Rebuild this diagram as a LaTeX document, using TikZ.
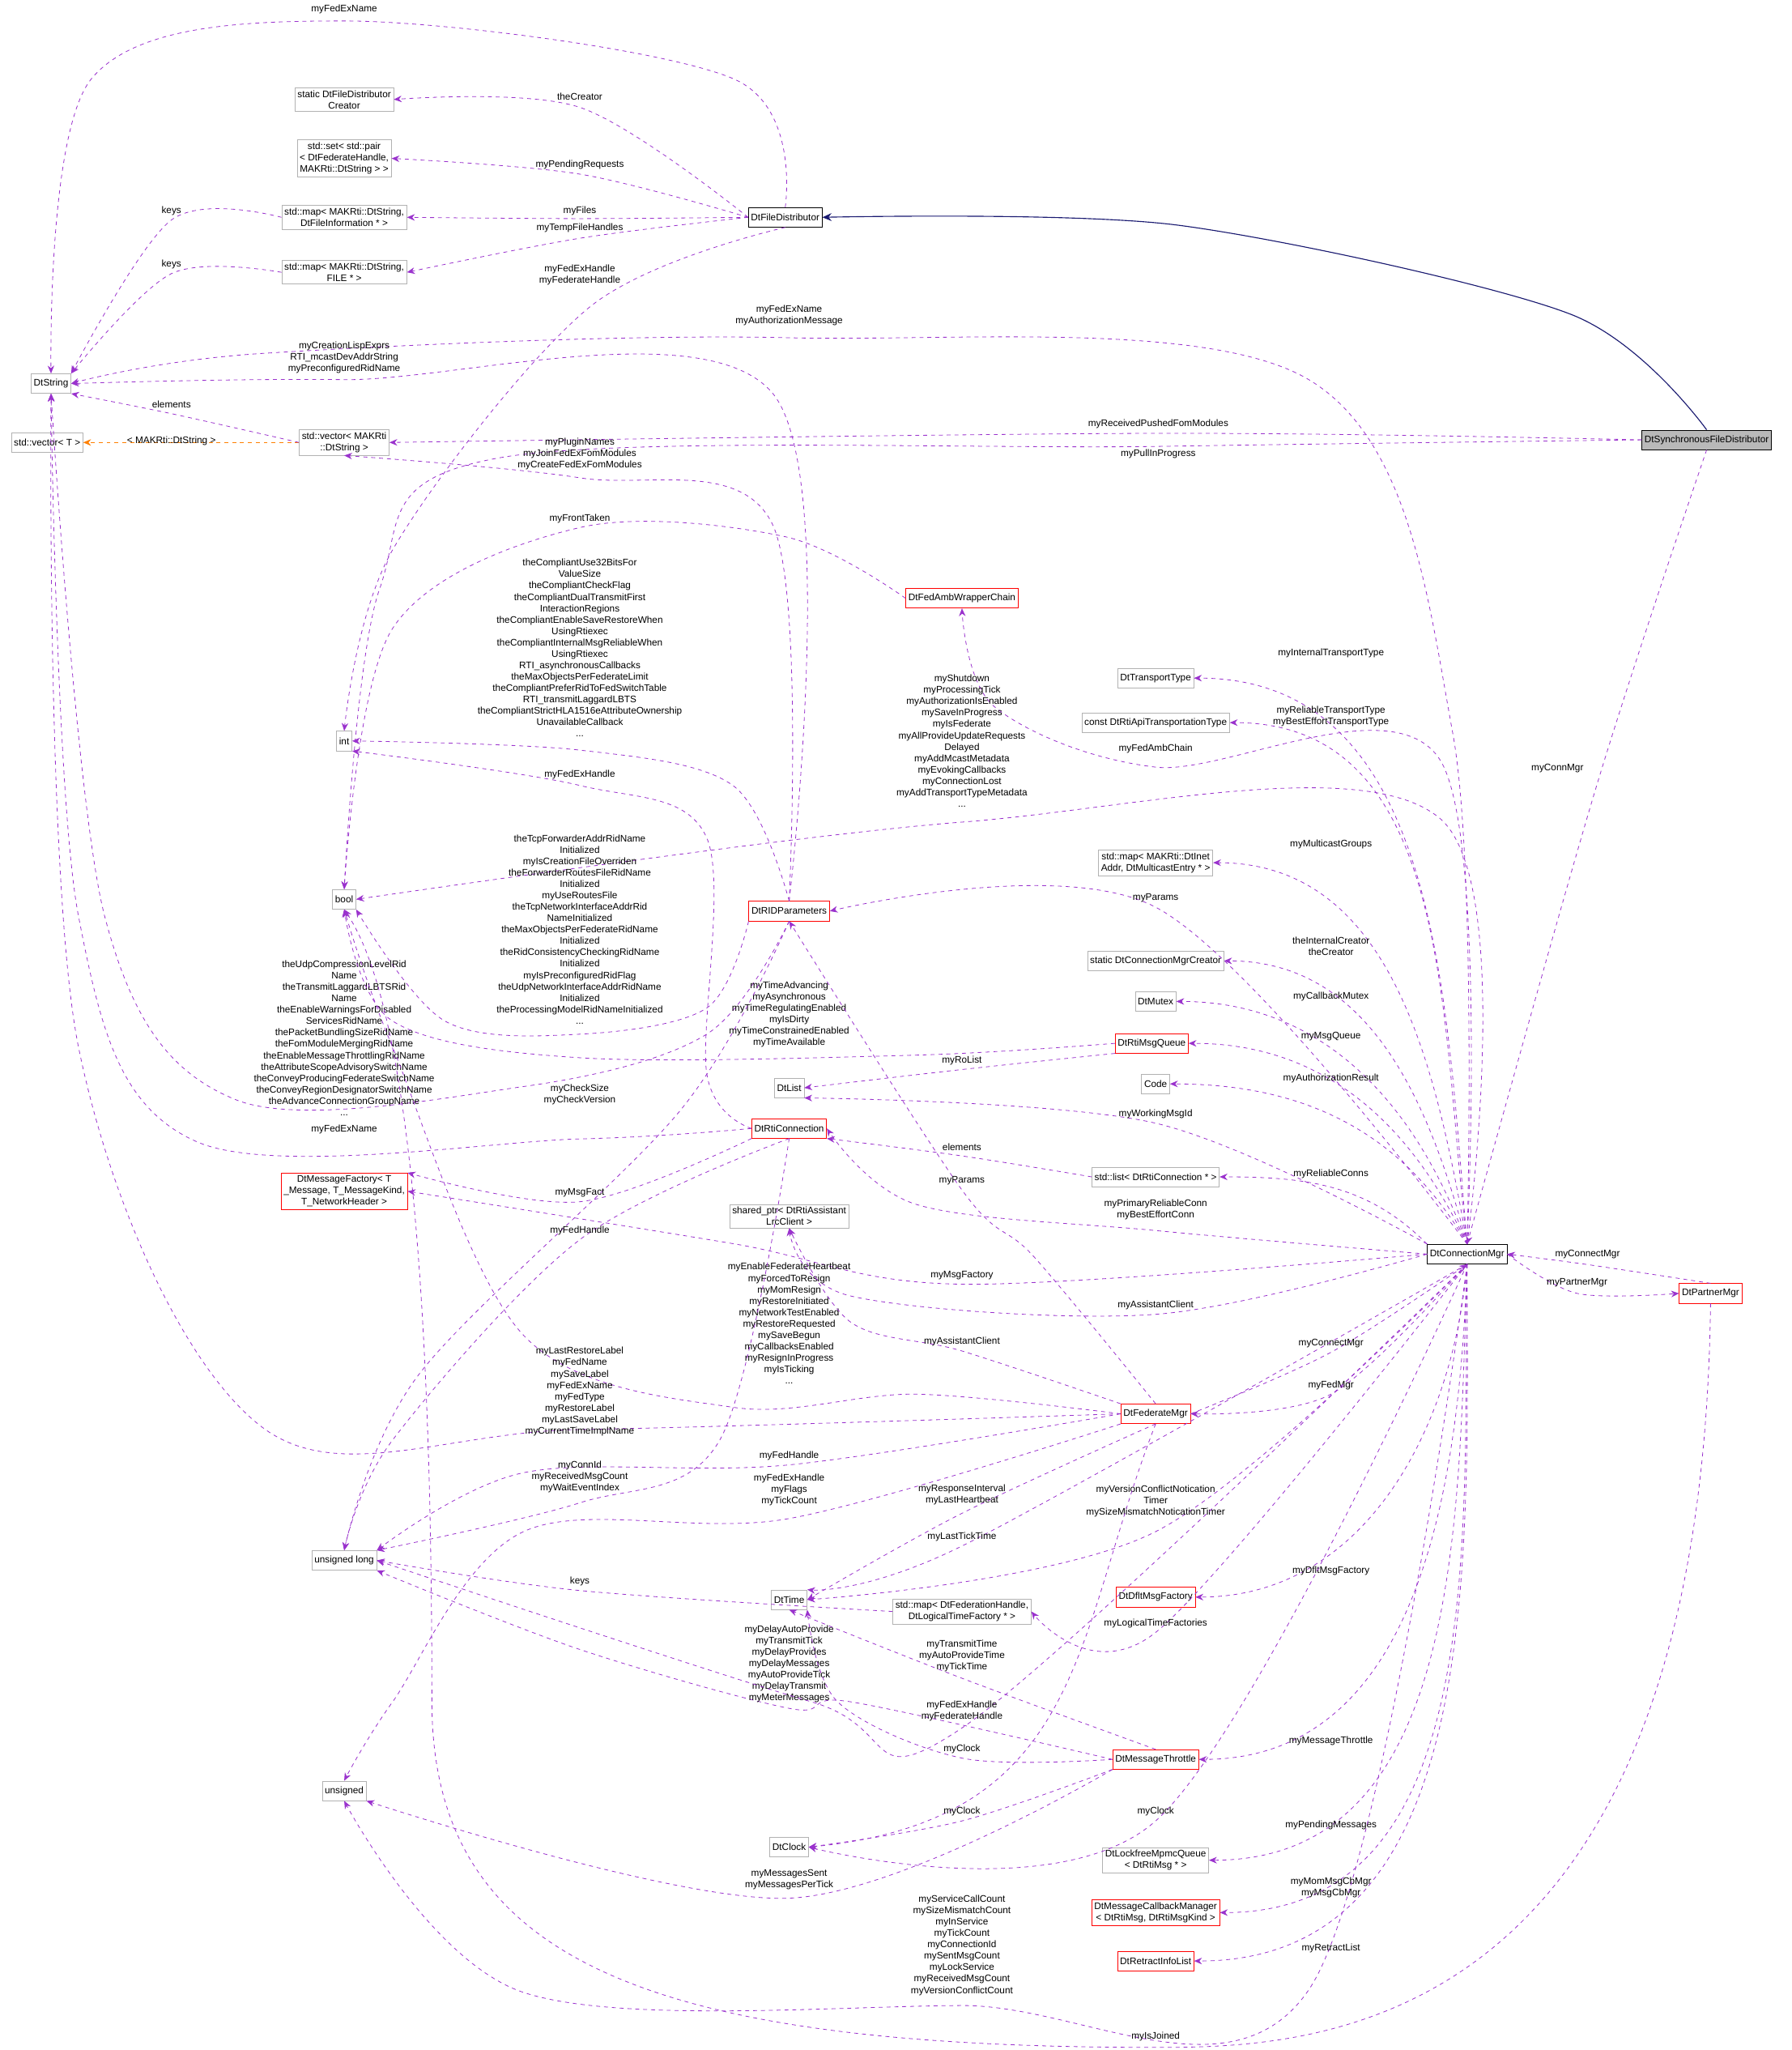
\documentclass[tikz,border=0pt]{standalone}
\usepackage{fontspec}
\setmainfont{Liberation Sans}
\usetikzlibrary{arrows.meta}
\begin{document}
\begin{tikzpicture}[x=1pt,y=-1pt,
  every node/.style={font=\fontsize{7.3}{8.7}\selectfont,align=center},
  box/.style={draw=gray!60,fill=white,inner sep=2pt,minimum height=15pt},
  rbox/.style={box,draw=red},
  kbox/.style={box,draw=black},
  lbl/.style={inner sep=0pt},
  dep/.style={draw={rgb,255:red,154;green,50;blue,205},dashed,line width=0.5pt,-{Stealth[length=6pt,width=5pt]}},
  tpl/.style={draw=orange,dashed,line width=0.5pt,-{Stealth[length=6pt,width=5pt]}},
  inh/.style={draw={rgb,255:red,25;green,25;blue,112},line width=0.7pt,-{Stealth[length=7pt,width=6pt]}}]
\useasboundingbox (0,0) rectangle (1369,1566);
% nodes
\node[kbox,fill=gray!55] (sync) at (1304,336) {DtSynchronousFileDistributor};
\node[kbox] (fd) at (600,166) {DtFileDistributor};
\node[kbox] (conn) at (1121,958) {DtConnectionMgr};
\node[rbox] (partner) at (1307,988) {DtPartnerMgr};
\node[box] (str) at (39,293) {DtString};
\node[box] (creator) at (263,76) {static DtFileDistributor\\Creator};
\node[box] (set) at (263,121) {std::set\textless{} std::pair\\\textless{} DtFederateHandle,\\MAKRti::DtString \textgreater{} \textgreater};
\node[box] (mapfi) at (263,166) {std::map\textless{} MAKRti::DtString,\\DtFileInformation * \textgreater};
\node[box] (mapfile) at (263,208) {std::map\textless{} MAKRti::DtString,\\FILE * \textgreater};
\node[box] (vec) at (263,338) {std::vector\textless{} MAKRti\\::DtString \textgreater};
\node[box] (vt) at (36,338) {std::vector\textless{} T \textgreater};
\node[box] (int) at (263,566) {int};
\node[box] (bool) at (263,687) {bool};
\node[rbox] (fedamb) at (735,457) {DtFedAmbWrapperChain};
\node[box] (trans) at (883,518) {DtTransportType};
\node[box] (api) at (883,552) {const DtRtiApiTransportationType};
\node[box] (inet) at (883,659) {std::map\textless{} MAKRti::DtInet\\Addr, DtMulticastEntry * \textgreater};
\node[rbox] (rid) at (603,696) {DtRIDParameters};
\node[box] (mgrcreator) at (883,734) {static DtConnectionMgrCreator};
\node[box] (mutex) at (883,765) {DtMutex};
\node[rbox] (msgq) at (880,797) {DtRtiMsgQueue};
\node[box] (code) at (883,828) {Code};
\node[box] (list) at (603,831) {DtList};
\node[rbox] (rtic) at (603,862) {DtRtiConnection};
\node[box] (stdlist) at (883,899) {std::list\textless{} DtRtiConnection * \textgreater};
\node[rbox] (msgfact) at (263,910) {DtMessageFactory\textless{} T\\\_Message, T\_MessageKind,\\T\_NetworkHeader \textgreater};
\node[box] (shared) at (603,929) {shared\_ptr\textless{} DtRtiAssistant\\LrcClient \textgreater};
\node[rbox] (fm) at (883,1080) {DtFederateMgr};
\node[box] (ulong) at (263,1192) {unsigned long};
\node[box] (time) at (603,1222) {DtTime};
\node[box] (maplt) at (735,1231) {std::map\textless{} DtFederationHandle,\\DtLogicalTimeFactory * \textgreater};
\node[rbox] (dflt) at (883,1220) {DtDfltMsgFactory};
\node[rbox] (thr) at (883,1344) {DtMessageThrottle};
\node[box] (unsig) at (263,1368) {unsigned};
\node[box] (clock) at (603,1411) {DtClock};
\node[box] (lockfree) at (883,1421) {DtLockfreeMpmcQueue\\\textless{} DtRtiMsg * \textgreater};
\node[rbox] (cbm) at (883,1461) {DtMessageCallbackManager\\\textless{} DtRtiMsg, DtRtiMsgKind \textgreater};
\node[rbox] (retract) at (883,1498) {DtRetractInfoList};

% inheritance / template
\draw[inh] plot[smooth] coordinates {(sync.north) (1200,240) (900,172) (fd.east)};
\draw[tpl] (vec.west) -- (vt.east|-vec.west);
\node[lbl] at (131,337) {\textless{} MAKRti::DtString \textgreater};

\newcommand\E[3]{\draw[dep] plot[smooth,tension=0.55] coordinates {#1}; \node[lbl] at #2 {#3};}
\newcommand\R[4]{\draw[dep] (conn.#1) to[out=#2,in=0] (#3.east); \node[lbl] at #4;}

\E{(fd.north) (560,60) (263,16) (70,60) (str.north)}{(263,7)}{myFedExName}
\E{(fd.west) (443,82) (creator.east)}{(443,74)}{theCreator}
\E{(fd.west) (443,133) (set.east)}{(443,126)}{myPendingRequests}
\E{(fd.west) (443,167) (mapfi.east)}{(443,161)}{myFiles}
\E{(fd.west) (443,182) (mapfile.east)}{(443,174)}{myTempFileHandles}
\E{(fd.south) (450,235) (300,420) (int.north)}{(443,210)}{myFedExHandle\\myFederateHandle}
\E{(mapfi.west) (131,168) (str.north east)}{(131,161)}{keys}
\E{(mapfile.west) (131,209) (str.north east)}{(131,202)}{keys}
\E{(vec.west) (131,316) (str.south east)}{(131,309)}{elements}
\E{(sync.west) (885,331) (vec.east)}{(885,324)}{myReceivedPushedFomModules}
\E{(sync.west) (885,341) (380,350) (290,450) (bool.north)}{(885,347)}{myPullInProgress}
\E{(sync.south) (1220,600) (conn.north)}{(1190,587)}{myConnMgr}
\E{(conn.north) (1110,560) (1000,290) (603,258) (200,270) (str.east)}{(603,241)}{myFedExName\\myAuthorizationMessage}
\E{(rid.north) (590,300) (263,290) (str.east)}{(263,273)}{myCreationLispExprs\\RTI\_mcastDevAddrString\\myPreconfiguredRidName}
\E{(rid.north) (590,400) (443,365) (vec.south)}{(443,347)}{myPluginNames\\myJoinFedExFomModules\\myCreateFedExFomModules}
\E{(fedamb.west) (600,410) (443,403) (300,480) (bool.north)}{(443,396)}{myFrontTaken}
\E{(rid.north) (560,600) (443,573) (int.east)}{(443,495)}{theCompliantUse32BitsFor\\ValueSize\\theCompliantCheckFlag\\theCompliantDualTransmitFirst\\InteractionRegions\\theCompliantEnableSaveRestoreWhen\\UsingRtiexec\\theCompliantInternalMsgReliableWhen\\UsingRtiexec\\RTI\_asynchronousCallbacks\\theMaxObjectsPerFederateLimit\\theCompliantPreferRidToFedSwitchTable\\RTI\_transmitLaggardLBTS\\theCompliantStrictHLA1516eAttributeOwnership\\UnavailableCallback\\...}
\E{(conn.north) (1100,580) (883,586) (760,540) (fedamb.south)}{(883,572)}{myFedAmbChain}
\E{(conn.north) (1100,625) (735,628) (bool.east)}{(735,566)}{myShutdown\\myProcessingTick\\myAuthorizationIsEnabled\\mySaveInProgress\\myIsFederate\\myAllProvideUpdateRequests\\Delayed\\myAddMcastMetadata\\myEvokingCallbacks\\myConnectionLost\\myAddTransportTypeMetadata\\...}
\E{(rtic.west) (540,820) (540,640) (443,600) (int.south east)}{(443,592)}{myFedExHandle}
\R{north}{95}{trans}{(1017,499) {myInternalTransportType}}
\R{north}{97}{api}{(1017,547) {myReliableTransportType\\myBestEffortTransportType}}
\R{north}{100}{inet}{(1017,645) {myMulticastGroups}}
\E{(conn.north) (883,693) (rid.east)}{(883,686)}{myParams}
\E{(rid.south west) (540,770) (443,790) (340,780) (bool.south east)}{(443,710)}{theTcpForwarderAddrRidName\\Initialized\\myIsCreationFileOverriden\\theForwarderRoutesFileRidName\\Initialized\\myUseRoutesFile\\theTcpNetworkInterfaceAddrRid\\NameInitialized\\theMaxObjectsPerFederateRidName\\Initialized\\theRidConsistencyCheckingRidName\\Initialized\\myIsPreconfiguredRidFlag\\theUdpNetworkInterfaceAddrRidName\\Initialized\\theProcessingModelRidNameInitialized\\...}
\E{(rid.south) (540,790) (400,830) (180,840) (80,700) (str.south)}{(263,793)}{theUdpCompressionLevelRid\\Name\\theTransmitLaggardLBTSRid\\Name\\theEnableWarningsForDisabled\\ServicesRidName\\thePacketBundlingSizeRidName\\theFomModuleMergingRidName\\theEnableMessageThrottlingRidName\\theAttributeScopeAdvisorySwitchName\\theConveyProducingFederateSwitchName\\theConveyRegionDesignatorSwitchName\\theAdvanceConnectionGroupName\\...}
\R{north}{105}{mgrcreator}{(1017,723) {theInternalCreator\\theCreator}}
\R{north}{110}{mutex}{(1017,761) {myCallbackMutex}}
\R{north}{115}{msgq}{(1017,792) {myMsgQueue}}
\E{(msgq.west) (700,806) (443,808) (300,780) (bool.south)}{(603,775)}{myTimeAdvancing\\myAsynchronous\\myTimeRegulatingEnabled\\myIsDirty\\myTimeConstrainedEnabled\\myTimeAvailable}
\E{(msgq.south west) (735,817) (list.east)}{(735,810)}{myRoList}
\R{north}{120}{code}{(1017,824) {myAuthorizationResult}}
\E{(conn.north west) (883,858) (list.south east)}{(883,851)}{myWorkingMsgId}
\E{(rid.south) (520,848) (320,1050) (ulong.north)}{(443,836)}{myCheckSize\\myCheckVersion}
\E{(rtic.west) (443,870) (150,872) (60,700) (str.south)}{(263,863)}{myFedExName}
\E{(stdlist.west) (735,883) (rtic.south east)}{(735,876)}{elements}
\R{north west}{135}{stdlist}{(1017,897) {myReliableConns}}
\E{(conn.west) (883,940) (700,920) (rtic.east)}{(883,924)}{myPrimaryReliableConn\\myBestEffortConn}
\E{(rtic.south west) (443,918) (msgfact.north east)}{(443,911)}{myMsgFact}
\E{(rtic.south) (443,947) (300,1100) (ulong.north)}{(443,940)}{myFedHandle}
\E{(conn.west) (735,981) (560,950) (msgfact.east)}{(735,974)}{myMsgFactory}
\E{(conn.west) (883,1004) (650,990) (shared.south)}{(883,997)}{myAssistantClient}
\E{(fm.west) (700,1065) (560,1075) (400,1020) (300,800) (bool.south)}{(603,1011)}{myEnableFederateHeartbeat\\myForcedToResign\\myMomResign\\myRestoreInitiated\\myNetworkTestEnabled\\myRestoreRequested\\mySaveBegun\\myCallbacksEnabled\\myResignInProgress\\myIsTicking\\...}
\E{(fm.north west) (735,1032) (650,1010) (shared.south)}{(735,1025)}{myAssistantClient}
\E{(fm.west) (443,1092) (200,1090) (60,800) (str.south)}{(443,1063)}{myLastRestoreLabel\\myFedName\\mySaveLabel\\myFedExName\\myFedType\\myRestoreLabel\\myLastSaveLabel\\myCurrentTimeImplName}
\E{(fm.north) (790,960) (735,909) (rid.south)}{(735,902)}{myParams}
\E{(fm.east) (1017,1033) (conn.south)}{(1017,1026)}{myConnectMgr}
\E{(conn.south) (1017,1065) (fm.east)}{(1017,1058)}{myFedMgr}
\E{(fm.west) (603,1119) (400,1125) (ulong.north east)}{(603,1112)}{myFedHandle}
\E{(rtic.south) (550,1100) (443,1148) (ulong.north east)}{(443,1128)}{myConnId\\myReceivedMsgCount\\myWaitEventIndex}
\E{(fm.south west) (603,1160) (400,1170) (300,1300) (unsig.north)}{(603,1138)}{myFedExHandle\\myFlags\\myTickCount}
\E{(fm.south) (735,1156) (time.east)}{(735,1142)}{myResponseInterval\\myLastHeartbeat}
\E{(conn.south) (883,1170) (time.east)}{(883,1147)}{myVersionConflictNotication\\Timer\\mySizeMismatchNoticationTimer}
\E{(conn.south) (735,1181) (time.north east)}{(735,1174)}{myLastTickTime}
\R{south}{-95}{dflt}{(1017,1200) {myDfltMsgFactory}}
\E{(maplt.west) (443,1215) (ulong.east)}{(443,1208)}{keys}
\E{(conn.south) (883,1247) (maplt.east)}{(883,1240)}{myLogicalTimeFactories}
\E{(thr.west) (650,1300) (603,1305) (443,1260) (ulong.south east)}{(603,1271)}{myDelayAutoProvide\\myTransmitTick\\myDelayProvides\\myDelayMessages\\myAutoProvideTick\\myDelayTransmit\\myMeterMessages}
\E{(thr.north) (735,1282) (time.south)}{(735,1265)}{myTransmitTime\\myAutoProvideTime\\myTickTime}
\E{(conn.south) (735,1320) (620,1300) (ulong.east)}{(735,1307)}{myFedExHandle\\myFederateHandle}
\draw[dep] (fm.south) .. controls (820,1250) and (830,1390) .. (clock.east);
\E{(thr.west) (735,1343) (640,1300) (time.south east)}{(735,1336)}{myClock}
\E{(thr.south west) (735,1391) (clock.east)}{(735,1384)}{myClock}
\E{(conn.south) (883,1391) (clock.east)}{(883,1384)}{myClock}
\R{south}{-92}{thr}{(1017,1330) {myMessageThrottle}}
\E{(thr.south west) (603,1450) (unsig.south east)}{(603,1436)}{myMessagesSent\\myMessagesPerTick}
\R{south}{-92}{lockfree}{(1017,1394) {myPendingMessages}}
\R{south}{-91}{cbm}{(1017,1442) {myMomMsgCbMgr\\myMsgCbMgr}}
\E{(conn.south) (1000,1520) (735,1532) (400,1522) (unsig.south)}{(735,1486)}{myServiceCallCount\\mySizeMismatchCount\\myInService\\myTickCount\\myConnectionId\\mySentMsgCount\\myLockService\\myReceivedMsgCount\\myVersionConflictCount}
\R{south}{-90}{retract}{(1017,1488) {myRetractList}}
\draw[dep] (partner.south) .. controls (1300,1560) and (1000,1564) .. (883,1564) .. controls (500,1564) and (330,1500) .. (330,1300) .. controls (330,900) and (300,750) .. (bool.south);
\node[lbl] at (883,1556) {myIsJoined};
\E{(partner.north) (1213,966) (conn.east)}{(1213,958)}{myConnectMgr}
\E{(conn.east) (1205,988) (partner.west)}{(1205,980)}{myPartnerMgr}
\end{tikzpicture}
\end{document}
